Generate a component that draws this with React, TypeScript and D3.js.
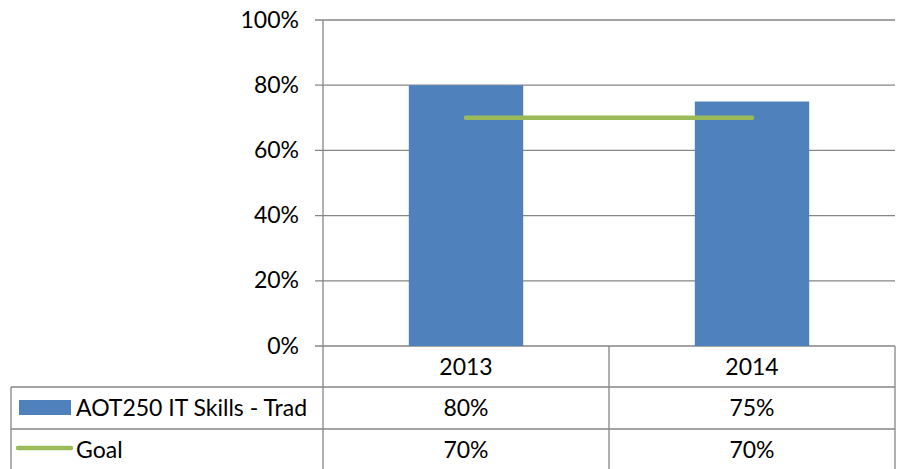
import React from "react";
import * as d3 from "d3";

const categories = ["2013", "2014"];
const skillsValues = [0.8, 0.75];
const goalValues = [0.7, 0.7];
const yTicks = [0, 0.2, 0.4, 0.6, 0.8, 1.0];
const seriesNames = ["AOT250 IT Skills - Trad", "Goal"];

const W = 903;
const H = 469;
const FONT = "Lato, 'Open Sans', sans-serif";
const FS = 23;
const GRID = "#868686";
const BLUE = "#4F81BD";
const GREEN = "#9BBB59";

export default function App() {
  const left = 323;
  const right = 895;
  const top = 20;
  const bottom = 346;
  const tableLeft = 11;
  const rowLines = [346, 387, 429, 470];

  const x = d3.scaleBand<string>().domain(categories).range([left, right]).paddingInner(0.6).paddingOuter(0.3);
  const xOuter = d3.scaleBand<string>().domain(categories).range([left, right]);
  const y = d3.scaleLinear().domain([0, 1]).range([bottom, top]);
  const fmt = d3.format(".0%");

  const line = d3
    .line<number>()
    .x((_, i) => (xOuter(categories[i]) as number) + xOuter.bandwidth() / 2)
    .y((d) => y(d));

  const rowCenters = [0, 1, 2].map((i) => (rowLines[i] + rowLines[i + 1]) / 2);

  return (
    <svg
      width={W}
      height={H}
      style={{ position: "absolute", left: 0, top: 0, background: "#fff" }}
      fontFamily={FONT}
    >
      {/* gridlines + ticks */}
      {yTicks.map((t) => (
        <g key={t}>
          <line x1={315} x2={right} y1={y(t)} y2={y(t)} stroke={GRID} strokeWidth={1.3} />
          <text x={299} y={y(t) + 7.5} textAnchor="end" fontSize={FS} fill="#000">
            {fmt(t)}
          </text>
        </g>
      ))}
      {/* bars */}
      {categories.map((c, i) => (
        <rect
          key={c}
          x={x(c)}
          y={y(skillsValues[i])}
          width={x.bandwidth()}
          height={y(0) - y(skillsValues[i])}
          fill={BLUE}
        />
      ))}
      {/* goal line */}
      <path d={line(goalValues) || ""} fill="none" stroke={GREEN} strokeWidth={4.5} strokeLinecap="round" />
      {/* y axis */}
      <line x1={left} x2={left} y1={top} y2={H} stroke={GRID} strokeWidth={1.3} />
      {/* table */}
      {rowLines.slice(1, 3).map((ry) => (
        <line key={ry} x1={tableLeft} x2={right} y1={ry} y2={ry} stroke={GRID} strokeWidth={1.3} />
      ))}
      <line x1={tableLeft} x2={tableLeft} y1={rowLines[1]} y2={H} stroke={GRID} strokeWidth={1.3} />
      {categories.map((c) => (
        <line
          key={c}
          x1={(xOuter(c) as number) + xOuter.bandwidth()}
          x2={(xOuter(c) as number) + xOuter.bandwidth()}
          y1={bottom}
          y2={H}
          stroke={GRID}
          strokeWidth={1.3}
        />
      ))}
      {/* header row */}
      {categories.map((c) => (
        <text
          key={c}
          x={(xOuter(c) as number) + xOuter.bandwidth() / 2}
          y={rowCenters[0] + 8.5}
          textAnchor="middle"
          fontSize={FS}
        >
          {c}
        </text>
      ))}
      {/* series rows */}
      {[skillsValues, goalValues].map((vals, r) => (
        <g key={r}>
          {categories.map((c, i) => (
            <text
              key={c}
              x={(xOuter(c) as number) + xOuter.bandwidth() / 2}
              y={rowCenters[r + 1] + 8}
              textAnchor="middle"
              fontSize={FS}
            >
              {fmt(vals[i])}
            </text>
          ))}
          <text x={76} y={rowCenters[r + 1] + 8} fontSize={FS}>
            {seriesNames[r]}
          </text>
        </g>
      ))}
      {/* legend keys */}
      <rect x={19} y={400} width={52} height={15} fill={BLUE} />
      <line x1={18} x2={71} y1={448} y2={448} stroke={GREEN} strokeWidth={4.5} strokeLinecap="round" />
    </svg>
  );
}
